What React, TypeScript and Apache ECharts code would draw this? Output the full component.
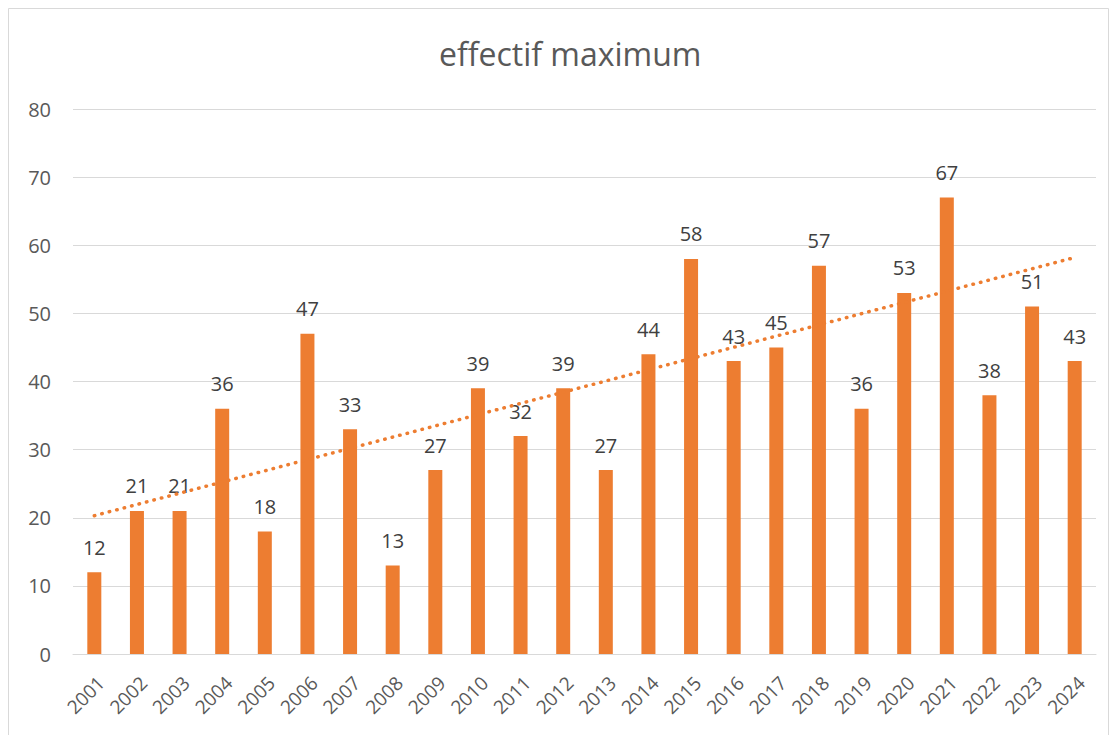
import React, { useEffect, useRef } from "react";
import * as echarts from "echarts";

const years = ["2001","2002","2003","2004","2005","2006","2007","2008","2009","2010","2011","2012","2013","2014","2015","2016","2017","2018","2019","2020","2021","2022","2023","2024"];
const effectif = [12,21,21,36,18,47,33,13,27,39,32,39,27,44,58,43,45,57,36,53,67,38,51,43];
const trendStart = 20.3;
const trendEnd = 58.2;
const yTicks = { min: 0, max: 80, interval: 10 };

export default function App() {
  const ref = useRef<HTMLDivElement>(null);
  useEffect(() => {
    if (!ref.current) return;
    const chart = echarts.init(ref.current, null, { renderer: "svg" });
    const font = "'Open Sans', 'Noto Sans', sans-serif";
    chart.setOption({
      animation: false,
      backgroundColor: "#ffffff",
      textStyle: { fontFamily: font },
      title: {
        text: "effectif maximum",
        left: 434,
        top: 32,
        textStyle: { fontSize: 32, fontWeight: "normal", color: "#595959", fontFamily: font },
      },
      graphic: [
        {
          type: "rect",
          shape: { x: 8.5, y: 8.5, width: 1100, height: 740 },
          style: { fill: "none", stroke: "#d9d9d9", lineWidth: 1 },
          silent: true,
        },
      ],
      grid: { left: 73, right: 17, top: 109, bottom: 81, containLabel: false },
      xAxis: {
        type: "category",
        data: years,
        axisLine: { show: true, lineStyle: { color: "#d9d9d9", width: 1 } },
        axisTick: { show: false },
        axisLabel: { rotate: 45, color: "#595959", fontSize: 19, margin: 19, verticalAlign: "top", interval: 0, fontFamily: font },
      },
      yAxis: {
        type: "value",
        min: yTicks.min,
        max: yTicks.max,
        interval: yTicks.interval,
        axisLine: { show: false },
        axisTick: { show: false },
        splitLine: { lineStyle: { color: "#d9d9d9", width: 1 } },
        axisLabel: { color: "#595959", fontSize: 20, margin: 22, fontFamily: font },
      },
      series: [
        {
          type: "bar",
          data: effectif,
          barWidth: 14,
          itemStyle: { color: "#ED7D31" },
          label: { show: true, position: "top", distance: 15, color: "#404040", fontSize: 20, fontFamily: font },
          z: 2,
        },
        {
          type: "line",
          data: [[years[0], trendStart], [years[years.length - 1], trendEnd]],
          symbol: "none",
          lineStyle: { color: "#ED7D31", width: 3.5, type: [0.5, 7.2], cap: "round" },
          z: 3,
        },
      ],
    });
    return () => chart.dispose();
  }, []);
  return <div ref={ref} style={{ position: "absolute", left: 0, top: 0, width: 1113, height: 735 }} />;
}
